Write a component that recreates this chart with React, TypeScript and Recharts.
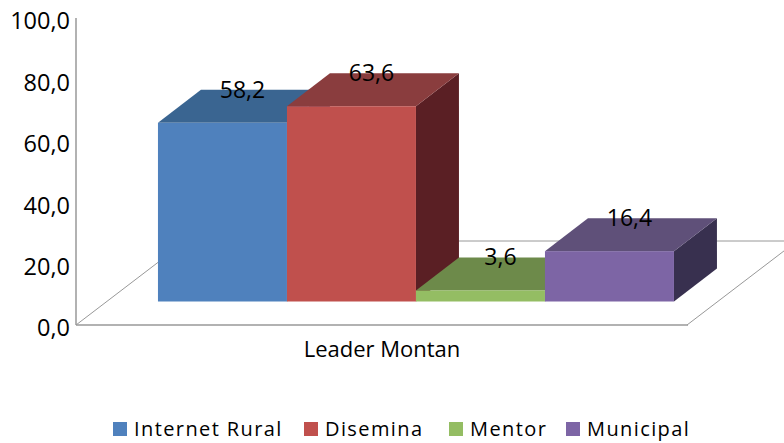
import { BarChart, Bar, XAxis, YAxis, Legend, LabelList, Customized } from 'recharts';

const categories = ['Leader Montan'];
const seriesNames = ['Internet Rural', 'Disemina', 'Mentor', 'Municipal'];
const seriesValues = [58.2, 63.6, 3.6, 16.4];
const yTicks = [0, 20, 40, 60, 80, 100];

const frontColors = ['#4f81bd', '#c0504d', '#94bd63', '#7d65a5'];
const topColors = ['#3a6591', '#8a3d3e', '#6d8a4a', '#5f5079'];
const sideColors = ['#2f5277', '#5a1f24', '#56703a', '#38304f'];

const FONT = '"Open Sans", sans-serif';
const AXIS_COLOR = '#989898';

// the bars stand inside the floor, not on its front edge
const SHIFT_X = 33;
const SHIFT_Y = -23.5;
const DEPTH_X = 43;
const DEPTH_Y = -33;

const chartData = categories.map((name) => {
  const row: Record<string, string | number> = { name };
  seriesNames.forEach((s, i) => {
    row[s] = seriesValues[i];
  });
  return row;
});

const fmt = (v: number) => v.toFixed(1).replace('.', ',');

function makeBox(i: number) {
  return function Box(props: any) {
    const x = props.x + SHIFT_X;
    const y = props.y + SHIFT_Y;
    const w = props.width;
    const h = props.height;
    return (
      <g>
        <polygon
          points={`${x + w},${y} ${x + w + DEPTH_X},${y + DEPTH_Y} ${x + w + DEPTH_X},${y + h + DEPTH_Y} ${x + w},${y + h}`}
          fill={sideColors[i]}
        />
        <polygon
          points={`${x},${y} ${x + DEPTH_X},${y + DEPTH_Y} ${x + w + DEPTH_X},${y + DEPTH_Y} ${x + w},${y}`}
          fill={topColors[i]}
        />
        <rect x={x} y={y} width={w} height={h} fill={frontColors[i]} />
      </g>
    );
  };
}

function ValueLabel(props: any) {
  const { x, y, width, value } = props;
  return (
    <text
      x={x + SHIFT_X + width / 2 + DEPTH_X / 2 - 1.5}
      y={y + SHIFT_Y + DEPTH_Y + 8}
      textAnchor="middle"
      fontFamily={FONT}
      fontSize={23}
      fill="#000"
    >
      {fmt(value)}
    </text>
  );
}

function Floor() {
  return (
    <polyline
      points="76,325 186,241 797,241 687,325"
      fill="none"
      stroke={AXIS_COLOR}
      strokeWidth={1}
    />
  );
}

function LegendRow() {
  return (
    <div style={{ position: 'relative', height: 30, fontFamily: FONT, fontSize: 20, color: '#000', letterSpacing: 1.4 }}>
      {seriesNames.map((s, i) => (
        <div key={s} style={{ position: 'absolute', left: [113, 304, 449, 566][i], top: 2, display: 'flex', alignItems: 'center', whiteSpace: 'nowrap' }}>
          <span style={{ width: 14, height: 14, background: frontColors[i], marginRight: 7 }} />
          <span>{s}</span>
        </div>
      ))}
    </div>
  );
}

export default function App() {
  return (
    <div style={{ position: 'absolute', left: 0, top: 0 }}>
      <BarChart
        width={784}
        height={443}
        data={chartData}
        margin={{ top: 18, right: 96, bottom: 0, left: 0 }}
        barCategoryGap="8%"
        barGap={0}
      >
        <Customized component={Floor} />
        <XAxis
          dataKey="name"
          height={88}
          tickLine={false}
          axisLine={{ stroke: AXIS_COLOR, strokeWidth: 1.5 }}
          tick={{ fill: '#000', fontSize: 22, fontFamily: FONT }}
          tickMargin={10}
        />
        <YAxis
          width={76}
          domain={[0, 100]}
          ticks={yTicks}
          interval={0}
          tickFormatter={fmt}
          tickLine={false}
          axisLine={{ stroke: AXIS_COLOR, strokeWidth: 1.5 }}
          tick={{ fill: '#000', fontSize: 23.5, fontFamily: FONT, dy: 3 }}
          tickMargin={0}
        />
        <Legend verticalAlign="bottom" height={30} content={LegendRow} />
        {seriesNames.map((s, i) => (
          <Bar key={s} dataKey={s} fill={frontColors[i]} isAnimationActive={false} shape={makeBox(i)}>
            <LabelList dataKey={s} content={ValueLabel} />
          </Bar>
        ))}
      </BarChart>
    </div>
  );
}
